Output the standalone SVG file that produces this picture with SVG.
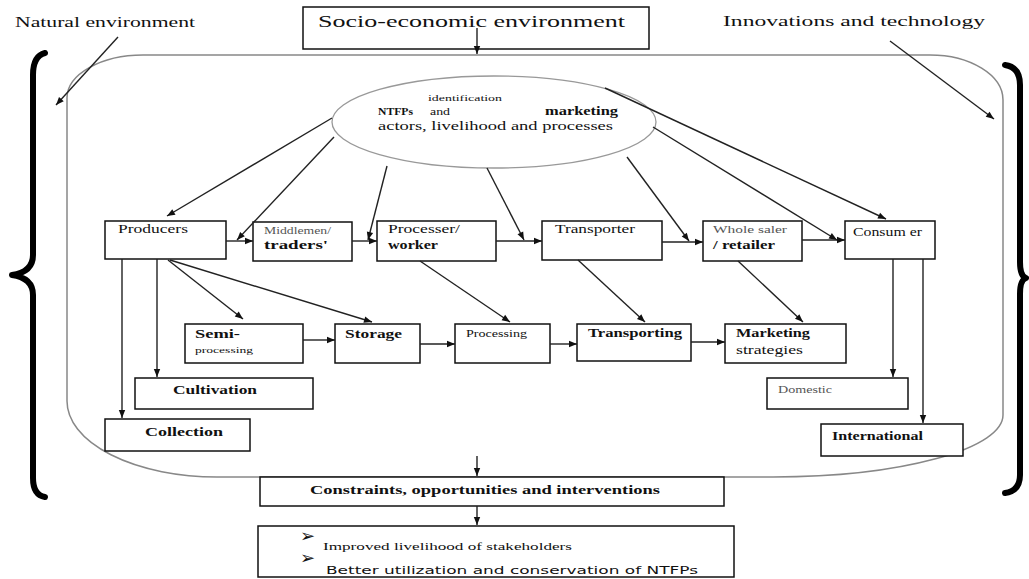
<svg xmlns="http://www.w3.org/2000/svg" width="1029" height="579" viewBox="0 0 1029 579">
<style>
  text { font-family: "Liberation Serif", "Times New Roman", serif; fill: #111; }
  .b { font-weight: bold; }
  .g { fill: #555; }
  .bul { font-family: "DejaVu Sans", sans-serif; font-size: 18px; }
  .box { fill: #fff; stroke: #111; stroke-width: 1.5; }
  .con { stroke: #222; stroke-width: 1.4; fill: none; marker-end: url(#ah); }
  .brace { fill: none; stroke: #000; stroke-width: 6; stroke-linecap: round; stroke-linejoin: round; }
</style>
<defs>
  <marker id="ah" viewBox="0 0 10 10" refX="10" refY="5" markerWidth="9" markerHeight="8" markerUnits="userSpaceOnUse" orient="auto">
    <path d="M0,1 L10,5 L0,9 z" fill="#111"/>
  </marker>
</defs>
<rect width="1029" height="579" fill="#fff"/>

<g id="frame">
  <path d="M143,55 H930 A73,45 0 0 1 1003,100 V415 A230,62 0 0 1 773,477 H217 A150,76 0 0 1 67,401 V98 A76,43 0 0 1 143,55 Z" fill="none" stroke="#888" stroke-width="1.5"/>
  <path class="brace" d="M45,53 Q33,56 33,75 V255 Q33,272 12,275 Q33,278 33,295 V478 Q33,495 45,497"/>
  <path class="brace" d="M1005,65 Q1020,67 1020,85 V262 Q1020,276 1026,278 Q1020,280 1020,294 V475 Q1020,491 1005,493"/>
</g>

<g id="natural"><text x="15" y="27" font-size="15" textLength="180" lengthAdjust="spacingAndGlyphs">Natural environment</text></g>
<g id="socio">
  <rect class="box" x="303" y="7" width="346" height="42"/>
  <text x="318" y="27" font-size="17" textLength="307" lengthAdjust="spacingAndGlyphs">Socio-economic environment</text>
</g>
<g id="innov"><text x="723" y="26" font-size="15" textLength="262" lengthAdjust="spacingAndGlyphs">Innovations and technology</text></g>

<g id="ellipse">
  <ellipse cx="494" cy="122" rx="162" ry="46" fill="#fff" stroke="#999" stroke-width="1.3"/>
  <text x="428" y="101" font-size="9" textLength="74" lengthAdjust="spacingAndGlyphs">identification</text>
  <text x="378" y="115" font-size="11" class="b" textLength="35" lengthAdjust="spacingAndGlyphs">NTFPs</text>
  <text x="430" y="115" font-size="11" textLength="20" lengthAdjust="spacingAndGlyphs">and</text>
  <text x="545" y="115" font-size="12" class="b" textLength="73" lengthAdjust="spacingAndGlyphs">marketing</text>
  <text x="378" y="130" font-size="12" textLength="235" lengthAdjust="spacingAndGlyphs">actors, livelihood and processes</text>
</g>

<g id="producers"><rect class="box" x="105" y="221" width="121" height="38"/>
  <text x="118" y="233" font-size="13" textLength="70" lengthAdjust="spacingAndGlyphs">Producers</text></g>
<g id="middlemen"><rect class="box" x="253" y="222" width="99" height="39"/>
  <text x="264" y="234" font-size="10" class="g" textLength="67" lengthAdjust="spacingAndGlyphs">Middlemen/</text>
  <text x="264" y="249" font-size="12" class="b" textLength="64" lengthAdjust="spacingAndGlyphs">traders'</text></g>
<g id="processer"><rect class="box" x="377" y="221" width="119" height="40"/>
  <text x="388" y="233" font-size="13" textLength="72" lengthAdjust="spacingAndGlyphs">Processer/</text>
  <text x="388" y="249" font-size="12" class="b" textLength="50" lengthAdjust="spacingAndGlyphs">worker</text></g>
<g id="transporter"><rect class="box" x="542" y="221" width="120" height="39"/>
  <text x="555" y="233" font-size="13" textLength="80" lengthAdjust="spacingAndGlyphs">Transporter</text></g>
<g id="wholesaler"><rect class="box" x="703" y="221" width="99" height="40"/>
  <text x="713" y="233" font-size="11" class="g" textLength="74" lengthAdjust="spacingAndGlyphs">Whole saler</text>
  <text x="713" y="249" font-size="12" class="b" textLength="62" lengthAdjust="spacingAndGlyphs">/ retailer</text></g>
<g id="consumer"><rect class="box" x="845" y="221" width="90" height="38"/>
  <text x="853" y="236" font-size="12" textLength="69" lengthAdjust="spacingAndGlyphs">Consum er</text></g>

<g id="semi"><rect class="box" x="185" y="324" width="118" height="39"/>
  <text x="195" y="338" font-size="13" class="b" textLength="45" lengthAdjust="spacingAndGlyphs">Semi-</text>
  <text x="195" y="353" font-size="9" textLength="58" lengthAdjust="spacingAndGlyphs">processing</text></g>
<g id="storage"><rect class="box" x="335" y="324" width="85" height="39"/>
  <text x="345" y="338" font-size="13" class="b" textLength="57" lengthAdjust="spacingAndGlyphs">Storage</text></g>
<g id="processing"><rect class="box" x="455" y="324" width="95" height="39"/>
  <text x="466" y="337" font-size="10" textLength="61" lengthAdjust="spacingAndGlyphs">Processing</text></g>
<g id="transporting"><rect class="box" x="577" y="324" width="114" height="37"/>
  <text x="588" y="337" font-size="13" class="b" textLength="94" lengthAdjust="spacingAndGlyphs">Transporting</text></g>
<g id="marketing"><rect class="box" x="725" y="324" width="121" height="39"/>
  <text x="736" y="337" font-size="13" class="b" textLength="74" lengthAdjust="spacingAndGlyphs">Marketing</text>
  <text x="736" y="354" font-size="12" textLength="67" lengthAdjust="spacingAndGlyphs">strategies</text></g>

<g id="cultivation"><rect class="box" x="135" y="378" width="178" height="31"/>
  <text x="173" y="394" font-size="13" class="b" textLength="84" lengthAdjust="spacingAndGlyphs">Cultivation</text></g>
<g id="collection"><rect class="box" x="105" y="419" width="145" height="32"/>
  <text x="145" y="436" font-size="13" class="b" textLength="78" lengthAdjust="spacingAndGlyphs">Collection</text></g>
<g id="domestic"><rect class="box" x="767" y="378" width="141" height="31"/>
  <text x="778" y="393" font-size="10" class="g" textLength="54" lengthAdjust="spacingAndGlyphs">Domestic</text></g>
<g id="international"><rect class="box" x="821" y="424" width="142" height="32"/>
  <text x="832" y="440" font-size="12" class="b" textLength="91" lengthAdjust="spacingAndGlyphs">International</text></g>

<g id="constraints"><rect class="box" x="260" y="477" width="464" height="29"/>
  <text x="310" y="494" font-size="13" class="b" textLength="350" lengthAdjust="spacingAndGlyphs">Constraints, opportunities and interventions</text></g>
<g id="outcomes"><rect class="box" x="258" y="526" width="476" height="51"/>
  <text class="bul" x="300" y="542">➢</text>
  <text x="323" y="550" font-size="11" textLength="249" lengthAdjust="spacingAndGlyphs">Improved livelihood of stakeholders</text>
  <text class="bul" x="300" y="564">➢</text>
  <text x="326" y="574" font-size="11" style="font-family:'DejaVu Sans','Liberation Sans',sans-serif" textLength="372" lengthAdjust="spacingAndGlyphs">Better utilization and conservation of NTFPs</text></g>

<g id="connectors">
  <line class="con" x1="118" y1="37" x2="56" y2="105"/>
  <line class="con" x1="477" y1="28" x2="477" y2="54"/>
  <line class="con" x1="890" y1="41" x2="994" y2="119"/>

  <line class="con" x1="332" y1="118" x2="167" y2="216"/>
  <line class="con" x1="334" y1="137" x2="237" y2="240"/>
  <line class="con" x1="387" y1="166" x2="368" y2="240"/>
  <line class="con" x1="487" y1="168" x2="524" y2="240"/>
  <line class="con" x1="627" y1="157" x2="689" y2="241"/>
  <line class="con" x1="653" y1="127" x2="837" y2="240"/>
  <line class="con" x1="605" y1="88" x2="886" y2="219"/>

  <line class="con" x1="226" y1="241" x2="253" y2="241"/>
  <line class="con" x1="352" y1="241" x2="377" y2="241"/>
  <line class="con" x1="496" y1="241" x2="542" y2="241"/>
  <line class="con" x1="662" y1="242" x2="703" y2="242"/>
  <line class="con" x1="802" y1="240" x2="845" y2="240"/>

  <line class="con" x1="168" y1="260" x2="243" y2="319"/>
  <line class="con" x1="170" y1="260" x2="372" y2="322"/>
  <line class="con" x1="122" y1="259" x2="122" y2="418"/>
  <line class="con" x1="157" y1="259" x2="157" y2="377"/>
  <line class="con" x1="420" y1="261" x2="510" y2="322"/>
  <line class="con" x1="578" y1="260" x2="645" y2="322"/>
  <line class="con" x1="738" y1="261" x2="803" y2="322"/>
  <line class="con" x1="893" y1="259" x2="893" y2="377"/>
  <line class="con" x1="923" y1="259" x2="923" y2="423"/>

  <line class="con" x1="303" y1="340" x2="335" y2="340"/>
  <line class="con" x1="420" y1="344" x2="455" y2="344"/>
  <line class="con" x1="550" y1="344" x2="577" y2="344"/>
  <line class="con" x1="691" y1="342" x2="725" y2="342"/>

  <line class="con" x1="477" y1="456" x2="477" y2="476"/>
  <line class="con" x1="477" y1="506" x2="477" y2="525"/>
</g>
</svg>
